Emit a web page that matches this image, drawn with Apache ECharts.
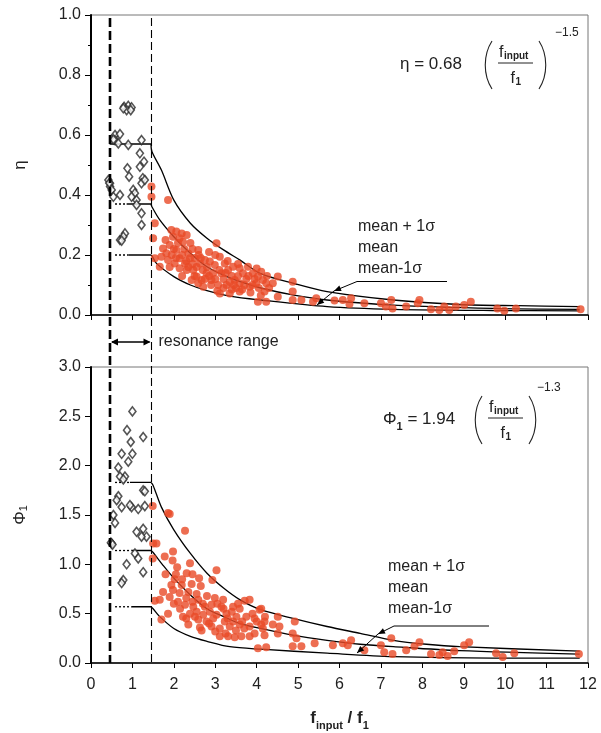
<!DOCTYPE html>
<html>
<head>
<meta charset="utf-8">
<script src="https://cdn.jsdelivr.net/npm/echarts@6/dist/echarts.min.js"></script>
<style>html,body{margin:0;padding:0;background:#fff}#c{width:601px;height:733px}</style>
</head>
<body>
<div id="c"></div>
<script>
// ---------- data ----------
const xTicks = [0,1,2,3,4,5,6,7,8,9,10,11,12];
const resonanceBounds = [0.45, 1.45];

// top panel (eta)
const etaResonancePts = [
 [0.80,0.694],[0.90,0.697],[0.98,0.692],[0.86,0.683],[0.96,0.683],[0.78,0.689],
 [0.58,0.600],[0.70,0.603],[0.58,0.583],[0.66,0.572],[0.90,0.567],[1.22,0.583],[0.54,0.585],
 [1.18,0.539],[1.28,0.511],[1.18,0.494],[0.88,0.489],[0.92,0.461],[1.25,0.456],[1.22,0.439],[1.30,0.450],
 [0.42,0.450],[0.46,0.439],[0.46,0.428],[0.50,0.417],[0.54,0.394],[0.44,0.440],
 [0.70,0.400],[1.02,0.417],[1.06,0.406],[0.98,0.394],[1.10,0.383],[1.10,0.367],[1.22,0.339],[1.22,0.300],
 [0.82,0.272],[0.70,0.250],[0.78,0.261],[0.74,0.248]
];
const etaMeasuredPts = [
 [1.46,0.428],[1.46,0.394],[1.86,0.383],[1.54,0.306],[1.50,0.256],[1.54,0.189],[1.66,0.161],
 [1.94,0.283],[2.06,0.278],[2.19,0.272],[2.31,0.267],[1.98,0.261],[2.14,0.256],[2.22,0.244],
 [1.74,0.222],[1.82,0.206],[1.70,0.194],[1.90,0.233],[1.86,0.183],
 [2.06,0.217],[2.14,0.189],[2.27,0.172],[2.39,0.189],[2.59,0.217],[3.03,0.239],[2.31,0.150],[2.47,0.150],
 [2.63,0.172],[2.75,0.183],[2.87,0.178],[2.99,0.167],[3.11,0.194],[3.23,0.172],[2.55,0.128],[2.67,0.117],
 [2.79,0.139],[2.91,0.117],[3.07,0.100],[3.15,0.139],[3.31,0.150],[3.43,0.161],[3.59,0.156],[3.67,0.139],
 [3.79,0.161],[3.91,0.139],[4.03,0.128],[4.15,0.117],[3.47,0.117],[3.59,0.106],[3.27,0.100],[3.11,0.072],
 [3.35,0.072],[3.59,0.078],[3.83,0.094],[3.99,0.106],[4.03,0.044],[4.23,0.044],[4.19,0.078],[2.59,0.106],
 [2.71,0.094],[2.43,0.117],[2.14,0.156],[2.02,0.172],
 [2.35,0.205],[2.50,0.190],[2.70,0.150],[2.95,0.140],[3.20,0.120],[3.40,0.130],[3.75,0.120],[2.40,0.240],
 [2.00,0.220],[1.80,0.250],[2.25,0.220],[2.90,0.100],[3.50,0.090],[3.85,0.075],
 [2.10,0.240],[2.20,0.200],[2.30,0.180],[2.45,0.170],[2.55,0.160],[2.65,0.190],[2.80,0.160],[2.85,0.130],
 [3.00,0.120],[3.10,0.150],[3.25,0.140],[3.35,0.110],[3.45,0.100],[3.55,0.130],[3.70,0.100],[3.80,0.130],
 [3.95,0.120],[4.05,0.090],[4.25,0.130],[4.30,0.090],[2.60,0.200],[2.35,0.160],[2.75,0.120],[3.00,0.200],
 [3.20,0.090],[3.65,0.085],[3.90,0.100],[1.95,0.200],[2.05,0.190],[2.45,0.220],[2.50,0.130],[3.05,0.080],
 [3.40,0.085],[4.10,0.065],[2.20,0.130],[1.90,0.160],[2.85,0.210],[3.30,0.180],[3.55,0.170],[4.00,0.155],
 [4.11,0.144],[4.23,0.106],[4.39,0.106],[4.51,0.128],[4.51,0.061],[4.87,0.111],[4.87,0.078],[4.87,0.050],
 [5.08,0.050],[5.36,0.044],[5.44,0.056],[5.88,0.048],[6.08,0.050],[6.28,0.056],[6.24,0.037],[6.60,0.039],
 [7.00,0.039],[7.12,0.028],[7.25,0.050],[7.28,0.022],[7.61,0.028],[7.93,0.050],[7.89,0.039],[8.21,0.019],
 [8.41,0.017],[8.53,0.028],[8.65,0.017],[8.81,0.028],[9.01,0.033],[9.17,0.044],[9.81,0.022],[9.98,0.014],
 [10.26,0.022],[11.82,0.019]
];
const etaUpperCurve = [[1.45,0.57],[1.47,0.545],[1.7,0.483],[2.0,0.383],[2.4,0.306],[2.8,0.256],[3.2,0.217],[3.6,0.183],[4.1,0.138],[4.9,0.105],[5.7,0.078],[7.3,0.050],[8.9,0.035],[10.3,0.031],[11.8,0.028]];
const etaMeanCurve  = [[1.45,0.37],[1.47,0.361],[1.66,0.317],[2.0,0.261],[2.4,0.206],[2.8,0.161],[3.2,0.133],[3.6,0.111],[4.1,0.090],[4.9,0.066],[5.7,0.050],[7.3,0.033],[9.7,0.022],[11.8,0.019]];
const etaLowerCurve = [[1.45,0.20],[1.47,0.198],[1.58,0.172],[2.0,0.128],[2.4,0.100],[2.8,0.081],[3.35,0.063],[4.1,0.050],[5.7,0.028],[7.3,0.019],[9.7,0.015],[11.8,0.014]];
const etaUpperFlat = [[0.45,0.57],[1.45,0.57]];
const etaMeanDot = [[0.58,0.37],[0.86,0.37]];
const etaMeanFlat = [[0.86,0.37],[1.45,0.37]];
const etaLowerDot = [[0.58,0.20],[0.90,0.20]];
const etaLowerFlat = [[0.90,0.20],[1.45,0.20]];

// bottom panel (phi1)
const phiResonancePts = [
 [1.00,2.55],[0.87,2.36],[1.26,2.29],[0.96,2.24],[0.74,2.12],[1.00,2.12],[0.90,2.04],[0.66,1.98],
 [0.82,1.89],[0.70,1.89],[0.78,1.86],[1.26,1.75],[1.30,1.74],[0.66,1.69],[0.62,1.65],[0.74,1.58],
 [0.98,1.58],[0.94,1.60],[1.14,1.56],[1.30,1.59],[0.54,1.50],[0.58,1.42],[1.10,1.33],[1.26,1.36],
 [1.34,1.28],[1.22,1.28],[0.50,1.21],[0.48,1.22],[0.52,1.20],[1.06,1.11],[1.14,1.06],[0.86,1.00],
 [1.26,0.92],[0.78,0.84],[0.74,0.81]
];
const phiMeasuredPts = [
 [1.49,1.59],[1.90,1.51],[1.86,1.52],[2.27,1.34],[1.50,1.21],[1.58,1.21],[1.49,1.06],[1.78,1.08],[1.98,1.13],
 [1.97,1.04],[2.39,1.01],[2.08,0.97],[2.31,0.91],[3.03,0.94],[2.61,0.86],[2.02,0.85],[2.93,0.84],
 [1.94,0.79],[2.19,0.79],[2.43,0.80],[1.74,0.72],[1.98,0.74],[2.35,0.72],[2.14,0.71],[1.66,0.64],
 [1.54,0.63],[1.90,0.67],[2.10,0.62],[2.59,0.64],[2.99,0.66],[3.19,0.64],[3.43,0.57],[3.71,0.63],
 [3.83,0.64],[2.27,0.59],[2.47,0.57],[2.75,0.57],[2.91,0.59],[3.15,0.57],[3.59,0.55],[1.86,0.50],
 [2.22,0.47],[2.39,0.50],[2.51,0.47],[2.71,0.49],[2.87,0.52],[3.03,0.49],[3.27,0.50],[3.51,0.47],
 [3.75,0.47],[3.95,0.45],[4.07,0.54],[1.70,0.44],[2.59,0.44],[2.79,0.42],[3.23,0.42],[3.43,0.42],
 [2.35,0.39],[2.63,0.36],[2.91,0.37],[3.11,0.35],[3.35,0.37],[3.59,0.39],[3.83,0.37],[4.11,0.39],
 [2.67,0.33],[3.11,0.27],[3.31,0.27],[3.47,0.26],[3.63,0.27],[3.83,0.27],[4.03,0.15],[4.23,0.16],
 [2.05,0.90],[2.20,0.85],[2.30,0.66],[2.45,0.62],[2.55,0.70],[2.70,0.60],[2.80,0.68],[2.95,0.45],
 [3.05,0.60],[3.20,0.55],[3.30,0.45],[3.40,0.52],[3.55,0.60],[3.65,0.42],[3.70,0.35],[3.90,0.50],
 [4.00,0.42],[4.20,0.47],[2.15,0.55],[2.30,0.45],[2.55,0.52],[2.85,0.40],[3.00,0.32],[3.25,0.30],
 [3.50,0.33],[3.95,0.30],[2.45,0.90],[2.65,0.78],[1.80,0.90],[2.00,0.60],
 [4.11,0.55],[4.19,0.42],[4.15,0.35],[4.19,0.28],[4.39,0.39],[4.51,0.47],[4.55,0.37],[4.51,0.30],
 [4.92,0.42],[4.87,0.30],[4.96,0.25],[4.87,0.17],[5.08,0.17],[5.40,0.20],[5.84,0.18],[6.08,0.20],
 [6.20,0.18],[6.28,0.23],[6.60,0.13],[7.00,0.18],[7.25,0.25],[7.08,0.11],[7.28,0.09],[7.61,0.13],
 [7.81,0.17],[7.93,0.21],[8.21,0.09],[8.41,0.08],[8.49,0.11],[8.61,0.07],[8.77,0.12],[9.01,0.18],
 [9.13,0.21],[9.78,0.10],[9.94,0.06],[10.22,0.10],[11.78,0.09]
];
const phiUpperCurve = [[1.45,1.83],[1.50,1.80],[1.70,1.58],[2.0,1.35],[2.4,1.11],[2.8,0.91],[3.2,0.76],[3.6,0.64],[4.1,0.54],[4.9,0.45],[5.7,0.37],[6.5,0.30],[7.3,0.23],[8.1,0.19],[8.9,0.165],[11.8,0.12]];
const phiMeanCurve  = [[1.45,1.14],[1.50,1.12],[1.74,0.99],[2.0,0.86],[2.4,0.69],[2.8,0.55],[3.2,0.47],[3.6,0.40],[4.1,0.35],[4.9,0.28],[5.7,0.23],[6.5,0.19],[7.3,0.165],[8.9,0.125],[11.8,0.09]];
const phiLowerCurve = [[1.45,0.57],[1.50,0.55],[1.66,0.47],[2.0,0.35],[2.4,0.27],[2.8,0.22],[3.35,0.165],[4.1,0.14],[5.7,0.10],[7.3,0.065],[9.7,0.05],[11.8,0.05]];
const phiUpperDot = [[0.58,1.83],[0.94,1.83]];
const phiUpperFlat = [[0.94,1.83],[1.45,1.83]];
const phiMeanDot = [[0.58,1.14],[0.98,1.14]];
const phiMeanFlat = [[0.98,1.14],[1.45,1.14]];
const phiLowerDot = [[0.58,0.57],[0.98,0.57]];
const phiLowerFlat = [[0.98,0.57],[1.45,0.57]];

// ---------- chart ----------
const FONT = 'Liberation Sans, Arial, sans-serif';
const RED = '#E84A27';
const chart = echarts.init(document.getElementById('c'), null, {renderer:'canvas'});

function xAxis(gi, labels){
  return {type:'value', gridIndex:gi, min:0, max:12, interval:1,
    axisLine:{show:true, onZero:false, lineStyle:{color:'#000', width:1.5}},
    axisTick:{show:true, inside:false, length:5, lineStyle:{color:'#000', width:1}},
    splitLine:{show:false},
    axisLabel:{show:labels, color:'#222', fontSize:16, fontFamily:FONT, margin:14}};
}
function yAxis(gi, max, interval, minor, name){
  return {type:'value', gridIndex:gi, min:0, max:max, interval:interval,
    name:name, nameLocation:'middle', nameRotate:90, nameGap:62,
    nameTextStyle:{fontSize:17, fontFamily:FONT, color:'#222', rich:{
      s:{fontSize:11, fontFamily:FONT, color:'#222', padding:[6,0,0,0]}}},
    axisLine:{show:true, onZero:false, lineStyle:{color:'#000', width:2}},
    axisTick:{show:true, inside:false, length:6, lineStyle:{color:'#000', width:1}},
    minorTick:{show:minor, splitNumber:2, length:3, lineStyle:{color:'#000', width:1}},
    splitLine:{show:false},
    axisLabel:{color:'#222', fontSize:16, fontFamily:FONT, margin:10,
      formatter:v=>v.toFixed(1)}};
}
function lineS(xi, data, opts){
  return Object.assign({type:'line', xAxisIndex:xi, yAxisIndex:xi, data:data, symbol:'none',
    smooth:false, silent:true, lineStyle:{color:'#000', width:1.3}, z:3}, opts||{});
}
function curveS(xi, data){ return lineS(xi, data, {smooth:0.3}); }
function dotS(xi, data){ return lineS(xi, data, {lineStyle:{color:'#000', width:1.3, type:[2,2]}}); }

const DIAMOND = {symbol:'diamond', symbolSize:[7,9], itemStyle:{color:'#fff', borderColor:'#2a2a2a', borderWidth:1.6}, z:4, silent:true};
const DOT = {symbol:'circle', symbolSize:8, itemStyle:{color:RED}, z:5, silent:true};

const option = {
  animation:false,
  backgroundColor:'#fff',
  grid:[
    {left:91, top:15, width:497, height:300, show:true, borderColor:'#777', borderWidth:1},
    {left:91, top:367, width:497, height:296, show:true, borderColor:'#777', borderWidth:1}
  ],
  xAxis:[xAxis(0,false), xAxis(1,true)],
  yAxis:[yAxis(0,1.0,0.2,true,'η'), yAxis(1,3.0,0.5,false,'Φ{s|1}')],
  series:[
    lineS(0, etaUpperFlat), dotS(0, etaMeanDot), lineS(0, etaMeanFlat), dotS(0, etaLowerDot), lineS(0, etaLowerFlat),
    curveS(0, etaUpperCurve), curveS(0, etaMeanCurve), curveS(0, etaLowerCurve),
    Object.assign({type:'scatter', xAxisIndex:0, yAxisIndex:0, data:etaResonancePts}, DIAMOND),
    Object.assign({type:'scatter', xAxisIndex:0, yAxisIndex:0, data:etaMeasuredPts}, DOT),
    dotS(1, phiUpperDot), lineS(1, phiUpperFlat), dotS(1, phiMeanDot), lineS(1, phiMeanFlat), dotS(1, phiLowerDot), lineS(1, phiLowerFlat),
    curveS(1, phiUpperCurve), curveS(1, phiMeanCurve), curveS(1, phiLowerCurve),
    Object.assign({type:'scatter', xAxisIndex:1, yAxisIndex:1, data:phiResonancePts}, DIAMOND),
    Object.assign({type:'scatter', xAxisIndex:1, yAxisIndex:1, data:phiMeasuredPts}, DOT)
  ]
};
chart.setOption(option);

// ---------- annotations ----------
const px = v => chart.convertToPixel({xAxisIndex:0}, v);
const pyTopPlot = chart.convertToPixel({yAxisIndex:0}, 1.0);
const pyBotPlot = chart.convertToPixel({yAxisIndex:1}, 0);
const xa = Math.round(px(resonanceBounds[0])), xb = Math.round(px(resonanceBounds[1])) + 0.5;
const g = [];
g.push({type:'line', shape:{x1:xa, y1:pyTopPlot+3, x2:xa, y2:pyBotPlot}, style:{stroke:'#000', lineWidth:2.6, lineDash:[9,4]}, z:10});
g.push({type:'line', shape:{x1:xb, y1:pyTopPlot+3, x2:xb, y2:pyBotPlot}, style:{stroke:'#000', lineWidth:1.1, lineDash:[8,4]}, z:10});
// resonance range arrow
const ay = 342;
g.push({type:'line', shape:{x1:xa+2, y1:ay, x2:xb-2, y2:ay}, style:{stroke:'#000', lineWidth:1.3}, z:10});
g.push({type:'polygon', shape:{points:[[xa+1,ay],[xa+8,ay-3.5],[xa+8,ay+3.5]]}, style:{fill:'#000'}, z:10});
g.push({type:'polygon', shape:{points:[[xb-1,ay],[xb-8,ay-3.5],[xb-8,ay+3.5]]}, style:{fill:'#000'}, z:10});
g.push({type:'text', x:xb+7, y:ay, style:{text:'resonance range', font:'16px '+FONT, fill:'#222', verticalAlign:'middle'}, z:10});

function legendBlock(x, y0, lineY, lx1, lx2, a1, a2){
  const items = ['mean + 1σ','mean','mean-1σ'];
  items.forEach((t,i)=>g.push({type:'text', x:x, y:y0+i*21, style:{text:t, font:'16px '+FONT, fill:'#222', verticalAlign:'middle'}, z:10}));
  g.push({type:'line', shape:{x1:lx1, y1:lineY, x2:lx2, y2:lineY}, style:{stroke:'#000', lineWidth:1}, z:10});
  g.push({type:'polyline', shape:{points:[[lx1,lineY],a1,a2]}, style:{stroke:'#000', lineWidth:1, fill:null}, z:10});
  [a1,a2].forEach((p,i)=>{
    const from = i===0 ? [lx1,lineY] : a1;
    const ang = Math.atan2(p[1]-from[1], p[0]-from[0]);
    const L=7, W=3;
    const bx = p[0]-L*Math.cos(ang), by = p[1]-L*Math.sin(ang);
    g.push({type:'polygon', shape:{points:[p,[bx+W*Math.sin(ang), by-W*Math.cos(ang)],[bx-W*Math.sin(ang), by+W*Math.cos(ang)]]}, style:{fill:'#000'}, z:10});
  });
}
legendBlock(358, 227, 281.5, 357, 447, [334,291], [317,305]);
legendBlock(388, 567, 626, 394, 489, [378,634], [357,653]);

function formula(lhs, lhsSub, x0, yMid, coefTxt, pl, pr, exp, expX, expY){
  g.push({type:'text', x:x0, y:yMid, style:{text:'{a|'+lhs+'}'+(lhsSub?'{b|'+lhsSub+'}':'')+'{a| = '+coefTxt+'}',
    rich:{a:{font:'17px '+FONT, fill:'#222', lineHeight:20, verticalAlign:'bottom'},
          b:{font:'bold 11px '+FONT, fill:'#222', lineHeight:20, verticalAlign:'bottom', padding:[0,0,-4,0]}},
    verticalAlign:'middle'}, z:10});
  g.push({type:'bezierCurve', shape:{x1:pl+3, y1:yMid-22, cpx1:pl-6, cpy1:yMid-8, cpx2:pl-6, cpy2:yMid+12, x2:pl+3, y2:yMid+26}, style:{stroke:'#222', lineWidth:1.1, fill:null}, z:10});
  g.push({type:'bezierCurve', shape:{x1:pr-3, y1:yMid-22, cpx1:pr+6, cpy1:yMid-8, cpx2:pr+6, cpy2:yMid+12, x2:pr-3, y2:yMid+26}, style:{stroke:'#222', lineWidth:1.1, fill:null}, z:10});
  const fx = pl+9, fw = pr-pl-18;
  g.push({type:'text', x:fx+1, y:yMid-10, style:{text:'f', font:'16px '+FONT, fill:'#222', verticalAlign:'middle'}, z:10});
  g.push({type:'text', x:fx+6, y:yMid-7, style:{text:'input', font:'bold 10px '+FONT, fill:'#222', verticalAlign:'middle'}, z:10});
  g.push({type:'line', shape:{x1:fx, y1:yMid, x2:fx+fw, y2:yMid}, style:{stroke:'#222', lineWidth:1}, z:10});
  g.push({type:'text', x:fx+fw/2-5, y:yMid+16, style:{text:'f', font:'16px '+FONT, fill:'#222', verticalAlign:'middle'}, z:10});
  g.push({type:'text', x:fx+fw/2, y:yMid+19, style:{text:'1', font:'bold 10px '+FONT, fill:'#222', verticalAlign:'middle'}, z:10});
  g.push({type:'text', x:expX, y:expY, style:{text:exp, font:'12px '+FONT, fill:'#222', verticalAlign:'middle'}, z:10});
}
formula('η', '', 400, 63, '0.68', 489, 542, '−1.5', 555, 33);
formula('Φ', '1', 383, 418, '1.94', 479, 532, '−1.3', 537, 388);

// x axis title
g.push({type:'text', x:(px(0)+px(12))/2, y:717, style:{text:'{a|f}{b|input}{a| / f}{b|1}',
  rich:{a:{font:'bold 17px '+FONT, fill:'#222', lineHeight:20, verticalAlign:'bottom'},
        b:{font:'bold 11px '+FONT, fill:'#222', lineHeight:20, verticalAlign:'bottom', padding:[0,0,-4,0]}},
  align:'center', verticalAlign:'middle'}, z:10});

chart.setOption({graphic:g});
</script>
</body>
</html>
